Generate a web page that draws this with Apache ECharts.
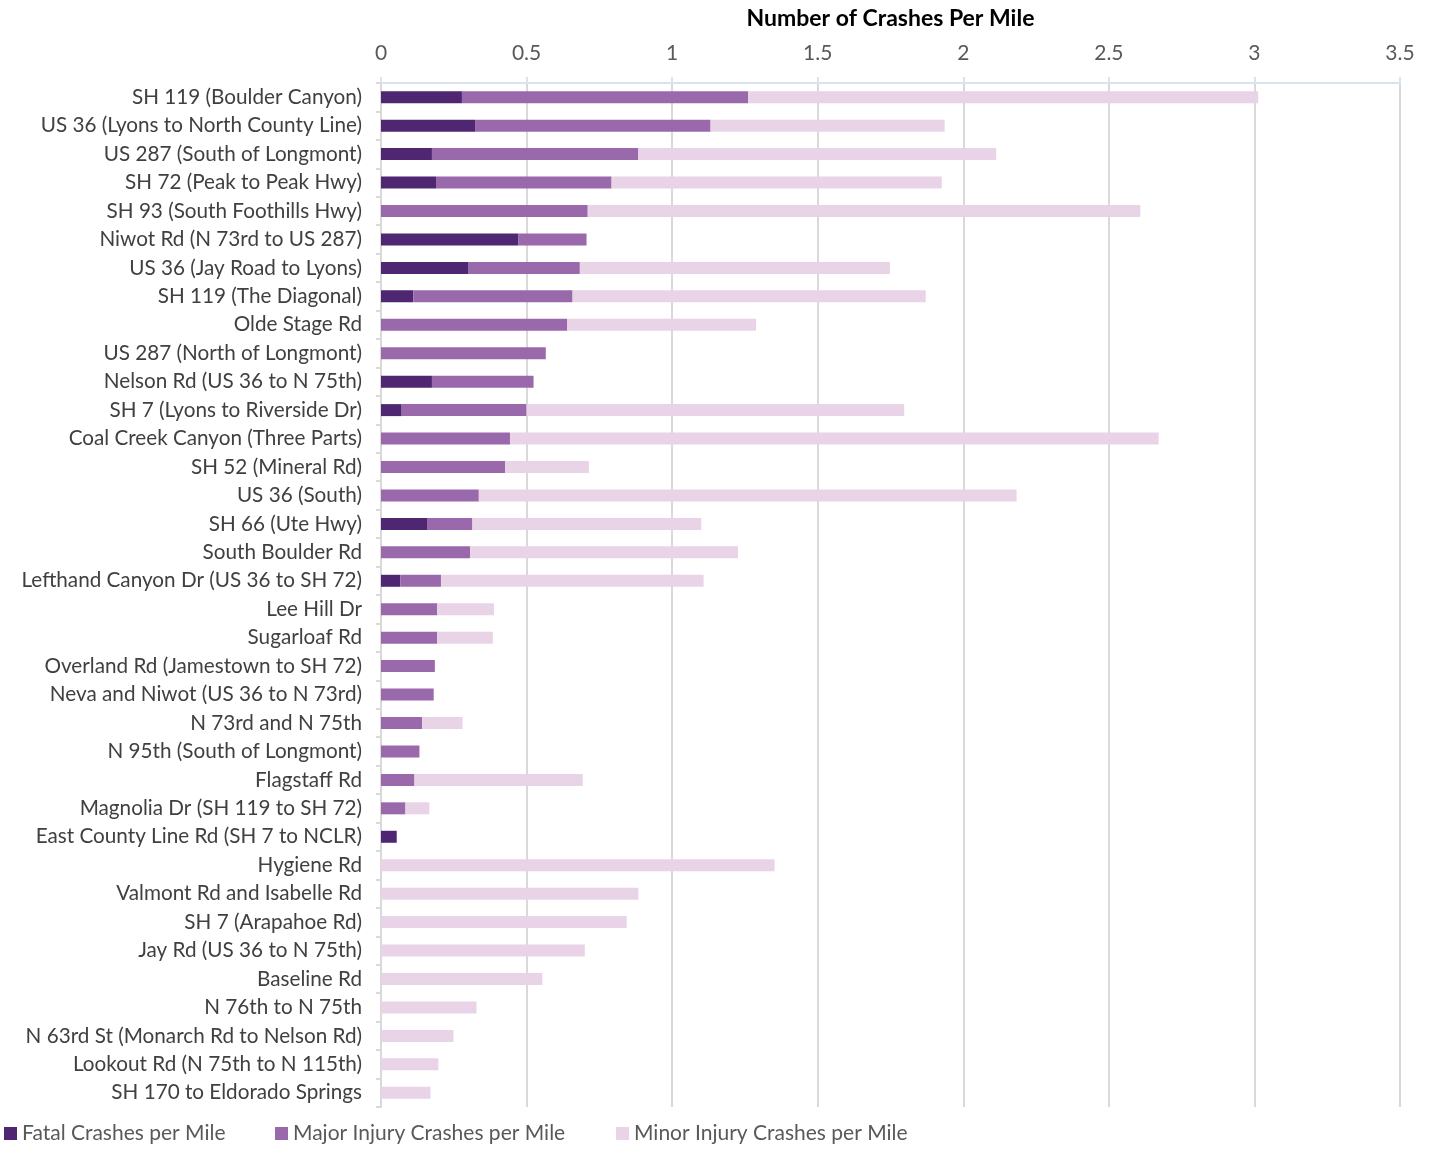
<!DOCTYPE html>
<html><head><meta charset="utf-8">
<script src="https://cdn.jsdelivr.net/npm/echarts@6/dist/echarts.min.js"></script>
<style>html,body{margin:0;padding:0;background:#fff}#c{width:1429px;height:1151px}</style>
</head><body><div id="c"></div>
<script>
const categories = [
 "SH 119 (Boulder Canyon)","US 36 (Lyons to North County Line)","US 287 (South of Longmont)","SH 72 (Peak to Peak Hwy)",
 "SH 93 (South Foothills Hwy)","Niwot Rd (N 73rd to US 287)","US 36 (Jay Road to Lyons)","SH 119 (The Diagonal)",
 "Olde Stage Rd","US 287 (North of Longmont)","Nelson Rd (US 36 to N 75th)","SH 7 (Lyons to Riverside Dr)",
 "Coal Creek Canyon (Three Parts)","SH 52 (Mineral Rd)","US 36 (South)","SH 66 (Ute Hwy)","South Boulder Rd",
 "Lefthand Canyon Dr (US 36 to SH 72)","Lee Hill Dr","Sugarloaf Rd","Overland Rd (Jamestown to SH 72)",
 "Neva and Niwot (US 36 to N 73rd)","N 73rd and N 75th","N 95th (South of Longmont)","Flagstaff Rd",
 "Magnolia Dr (SH 119 to SH 72)","East County Line Rd (SH 7 to NCLR)","Hygiene Rd","Valmont Rd and Isabelle Rd",
 "SH 7 (Arapahoe Rd)","Jay Rd (US 36 to N 75th)","Baseline Rd","N 76th to N 75th","N 63rd St (Monarch Rd to Nelson Rd)",
 "Lookout Rd (N 75th to N 115th)","SH 170 to Eldorado Springs"
];
const fatal = [0.278,0.323,0.175,0.189,0,0.471,0.301,0.111,0,0,0.175,0.071,0,0,0,0.158,0,0.066,0,0,0,0,0,0,0,0,0.054,0,0,0,0,0,0,0,0,0];
const major = [0.983,0.809,0.709,0.603,0.710,0.235,0.382,0.547,0.640,0.566,0.349,0.429,0.443,0.426,0.336,0.156,0.306,0.140,0.193,0.193,0.185,0.181,0.141,0.132,0.115,0.084,0,0,0,0,0,0,0,0,0,0];
const minor = [1.752,0.804,1.229,1.134,1.898,0,1.065,1.213,0.648,0,0,1.297,2.228,0.288,1.847,0.786,0.920,0.902,0.195,0.191,0,0,0.139,0,0.578,0.082,0,1.352,0.884,0.844,0.700,0.554,0.328,0.249,0.197,0.170];
const seriesNames = ["Fatal Crashes per Mile","Major Injury Crashes per Mile","Minor Injury Crashes per Mile"];
const xTicks = {min:0, max:3.5, interval:0.5};
const axisTitle = "Number of Crashes Per Mile";

const colors = ["#4E2672","#9A69AB","#E8D4E6"];
const font = "Lato, 'Liberation Sans', sans-serif";
const chart = echarts.init(document.getElementById('c'), null, {renderer:'canvas'});
const values = [fatal, major, minor];
chart.setOption({
  animation:false,
  textStyle:{fontFamily:font},
  grid:{left:381, right:29, top:83, bottom:44, containLabel:false},
  xAxis:{
    type:'value', position:'top', min:xTicks.min, max:xTicks.max, interval:xTicks.interval,
    name:axisTitle, nameLocation:'middle', nameGap:53,
    nameTextStyle:{fontFamily:font, fontSize:23, fontWeight:'bold', color:'#000'},
    axisLine:{show:true, lineStyle:{color:'#DAE3F0', width:2}},
    axisTick:{show:true, length:6, lineStyle:{color:'#DAE3F0', width:2}},
    axisLabel:{fontFamily:font, fontSize:21, color:'#595959', margin:19},
    splitLine:{show:true, lineStyle:{color:'#D9D9D9', width:2}}
  },
  yAxis:{
    type:'category', data:categories, inverse:true, offset:2,
    axisLine:{show:true, lineStyle:{color:'#D9D9D9', width:2}},
    axisTick:{show:true, length:5, lineStyle:{color:'#D9D9D9', width:2}},
    axisLabel:{fontFamily:font, fontSize:20.7, color:'#404040', margin:17}
  },
  legend:seriesNames.map((n,i)=>({
    data:[n], left:[4,275,616][i], top:1123, padding:0, itemWidth:13, itemHeight:13,
    icon:'rect', textStyle:{fontFamily:font, fontSize:21, color:'#595959'}
  })),
  series:seriesNames.map((n,i)=>({
    name:n, type:'bar', stack:'total', data:values[i], barWidth:12,
    itemStyle:{color:colors[i]}, emphasis:{disabled:true}
  }))
});
</script></body></html>
